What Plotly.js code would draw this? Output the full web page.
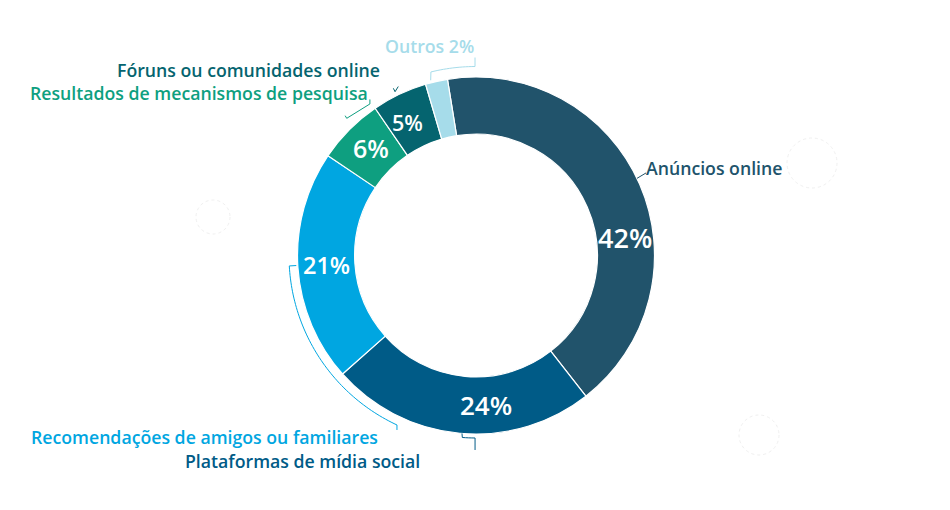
<!DOCTYPE html>
<html><head><meta charset="utf-8">
<script src="https://cdn.plot.ly/plotly-3.0.1.min.js"></script>
<style>html,body{margin:0;padding:0;background:#fff}#chart{width:950px;height:510px}</style>
</head><body><div id="chart"></div>
<script>
// ---- data ----
const categories = ['Anúncios online','Plataformas de mídia social','Recomendações de amigos ou familiares','Resultados de mecanismos de pesquisa','Fóruns ou comunidades online','Outros'];
const values = [42, 24, 21, 6, 5, 2];
const colors = ['#21536b','#005b87','#00a6e1','#0e9f80','#05646f','#a6dcea'];

// ---- layout constants (pixels) ----
const W = 950, H = 510, CX = 476, CY = 255.5, R = 178.5, HOLE = 0.68, ROT = -9.2;
const FONT = '"Open Sans", "Noto Sans", sans-serif';

const total = values.reduce((a, b) => a + b, 0);
const mids = [];
let acc = ROT;
values.forEach(v => { const span = v / total * 360; mids.push(acc + span / 2); acc += span; });

function px(angle, r) { const a = angle * Math.PI / 180; return [CX + r * Math.sin(a), CY - r * Math.cos(a)]; }
function toPaper(p) { return [p[0] / W, 1 - p[1] / H]; }

// leader styles: [angle offset from slice mid, radius]; equal radii -> arc
const leaderStyle = [
  {pts: [[-2, 178.5], [-2.3, 189]], dy: 0},
  {pts: [[-0.7, 178.5], [-0.9, 182.5], [-4.9, 182.5]], dy: 12},
  {pts: [[0.6, 180], [0.6, 187], [-61.2, 187]], dy: 5},
  {pts: [[2.1, 191.5], [1.9, 188.5], [10.2, 185]], dy: -4.5},
  {pts: [[-0.9, 186.5], [-0.9, 182.7], [0.7, 186]], dy: 0},
  {pts: [[-1.7, 181], [-1, 189], [12.5, 189]], dy: -9}
];

const shapes = [];
leaderStyle.forEach((ls, i) => {
  const pts = [];
  for (let k = 0; k < ls.pts.length; k++) {
    const [da, r] = ls.pts[k];
    if (k > 0 && ls.pts[k - 1][1] === r) {
      const a0 = mids[i] + ls.pts[k - 1][0], a1 = mids[i] + da;
      const n = Math.max(2, Math.ceil(Math.abs(a1 - a0)));
      for (let j = 1; j <= n; j++) pts.push(px(a0 + (a1 - a0) * j / n, r));
    } else pts.push(px(mids[i] + da, r));
  }
  if (ls.dy) { const last = pts[pts.length - 1]; pts.push([last[0], last[1] + ls.dy]); }
  const path = pts.map((p, k) => { const q = toPaper(p); return (k ? 'L' : 'M') + q[0].toFixed(5) + ',' + q[1].toFixed(5); }).join(' ');
  shapes.push({type: 'path', xref: 'paper', yref: 'paper', path: path, line: {color: colors[i], width: 1}});
});

// faint decorative dotted circles
const deco = [[213, 217, 17], [759, 435, 20], [812, 163, 25]];
deco.forEach(([x, y, r]) => shapes.push({type: 'circle', xref: 'paper', yref: 'paper',
  x0: (x - r) / W, x1: (x + r) / W, y0: 1 - (y + r) / H, y1: 1 - (y - r) / H,
  line: {color: '#f0f0f0', width: 1, dash: 'dot'}}));

// percentage labels inside ring
const pctOffset = [16.6, -9, 0, 0.9, -1.9, null];
const pctSize = [27, 26, 23.5, 25, 21.5, 0];
const annotations = [];
values.forEach((v, i) => {
  if (pctOffset[i] === null) return;
  const q = toPaper(px(mids[i] + pctOffset[i], 150));
  annotations.push({xref: 'paper', yref: 'paper', x: q[0], y: q[1], xanchor: 'center', yanchor: 'middle',
    text: v + '%', showarrow: false, font: {family: FONT, size: pctSize[i], color: '#ffffff', weight: 600}});
});

// outer category labels
const outerPos = [[644, 168, 'left'], [422, 461, 'right'], [380, 437, 'right'], [370, 93, 'right'], [382, 70, 'right'], [476, 46, 'right']];
categories.forEach((c, i) => {
  const [x, y, anc] = outerPos[i];
  annotations.push({xref: 'paper', yref: 'paper', x: x / W, y: 1 - y / H, xanchor: anc, yanchor: 'middle',
    text: i === categories.length - 1 ? c + ' ' + values[i] + '%' : c, showarrow: false,
    font: {family: FONT, size: 17.7, color: colors[i], weight: 600}});
});

const trace = {
  type: 'pie', labels: categories, values: values, sort: false, direction: 'clockwise', rotation: ROT,
  hole: HOLE, textinfo: 'none', hoverinfo: 'none', showlegend: false,
  marker: {colors: colors, line: {color: '#ffffff', width: 1.2}},
  domain: {x: [(CX - R) / W, (CX + R) / W], y: [1 - (CY + R) / H, 1 - (CY - R) / H]}
};

Plotly.newPlot('chart', [trace], {
  width: W, height: H, margin: {l: 0, r: 0, t: 0, b: 0},
  paper_bgcolor: '#ffffff', plot_bgcolor: '#ffffff',
  shapes: shapes, annotations: annotations, font: {family: FONT}
}, {displayModeBar: false, staticPlot: true});
</script></body></html>
